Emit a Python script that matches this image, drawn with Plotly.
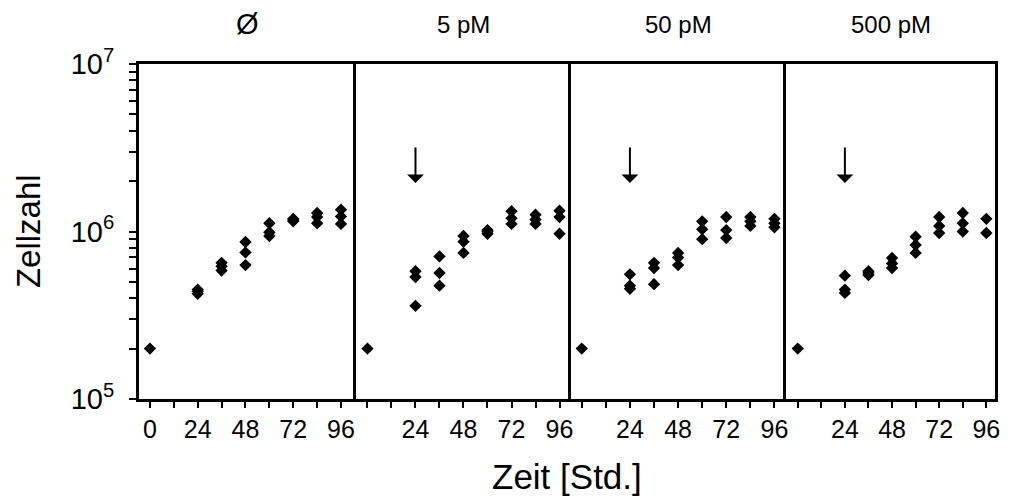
import math

import plotly.graph_objects as go
from plotly.subplots import make_subplots

# Zeitpunkte (Std.) und Zellzahlen je Ansatz
hours = [0, 24, 36, 48, 60, 72, 84, 96]

cells_ctrl = [
    [2.0e5],
    [4.5e5, 4.4e5, 4.25e5],
    [6.5e5, 6.2e5, 5.85e5],
    [8.65e5, 7.5e5, 6.3e5],
    [1.12e6, 9.9e5, 9.4e5],
    [1.19e6, 1.17e6, 1.15e6],
    [1.29e6, 1.22e6, 1.12e6],
    [1.35e6, 1.23e6, 1.11e6],
]

cells_5pm = [
    [2.0e5],
    [5.8e5, 5.35e5, 3.6e5],
    [7.1e5, 5.65e5, 4.75e5],
    [9.4e5, 8.7e5, 7.45e5],
    [1.02e6, 1.0e6, 9.7e5],
    [1.32e6, 1.2e6, 1.11e6],
    [1.26e6, 1.18e6, 1.11e6],
    [1.33e6, 1.22e6, 9.7e5],
]

cells_50pm = [
    [2.0e5],
    [5.55e5, 4.75e5, 4.55e5],
    [6.5e5, 6.05e5, 4.85e5],
    [7.45e5, 7.0e5, 6.3e5],
    [1.15e6, 1.03e6, 9.0e5],
    [1.22e6, 1.02e6, 9.15e5],
    [1.22e6, 1.15e6, 1.08e6],
    [1.19e6, 1.12e6, 1.06e6],
]

cells_500pm = [
    [2.0e5],
    [5.45e5, 4.5e5, 4.3e5],
    [5.8e5, 5.65e5, 5.5e5],
    [6.95e5, 6.45e5, 6.05e5],
    [9.3e5, 8.3e5, 7.45e5],
    [1.22e6, 1.08e6, 9.8e5],
    [1.29e6, 1.12e6, 1.0e6],
    [1.19e6, 9.8e5],
]

panel_titles = ["Ø", "5 pM", "50 pM", "500 pM"]
panels = [cells_ctrl, cells_5pm, cells_50pm, cells_500pm]

# Zugabe des Wirkstoffs (Pfeil)
treatment_hour = 24
arrow_tip = 1.95e6

x_tickvals = [0, 12, 24, 36, 48, 60, 72, 84, 96]

FONT = "Arial, Liberation Sans, sans-serif"

fig = make_subplots(rows=1, cols=4, shared_yaxes=True, horizontal_spacing=0)

for i, panel in enumerate(panels):
    xs = []
    ys = []
    for h, vals in zip(hours, panel):
        for v in vals:
            xs.append(h)
            ys.append(v)
    fig.add_trace(
        go.Scatter(
            x=xs,
            y=ys,
            mode="markers",
            marker=dict(symbol="diamond", size=9.5, color="black"),
            showlegend=False,
        ),
        row=1,
        col=i + 1,
    )

# Achsen
domains = [[0, 0.2534], [0.2534, 0.5041], [0.5041, 0.7564], [0.7564, 1]]
x_ranges = [[-5.5, 103.5], [-5.78, 101.5], [-5.6, 102.0], [-5.73, 100.4]]

for i in range(4):
    labels = [str(v) if v % 24 == 0 else "" for v in x_tickvals]
    if i > 0:
        labels[0] = ""
    fig.update_xaxes(
        domain=domains[i],
        range=x_ranges[i],
        tickvals=x_tickvals,
        ticktext=labels,
        ticks="outside",
        ticklen=6,
        tickwidth=2,
        tickcolor="black",
        showline=True,
        linewidth=3,
        linecolor="black",
        mirror=True,
        showgrid=False,
        zeroline=False,
        tickfont=dict(family=FONT, size=25, color="black"),
        row=1,
        col=i + 1,
    )

y_tickvals = []
y_ticktext = []
for p in range(5, 7):
    for m in range(1, 10):
        y_tickvals.append(m * 10 ** p)
        y_ticktext.append("10<sup>%d</sup>" % p if m == 1 else "")
y_tickvals.append(1e7)
y_ticktext.append("10<sup>7</sup>")

for i in range(4):
    fig.update_yaxes(
        type="log",
        range=[5, 7],
        showline=True,
        linewidth=3,
        linecolor="black",
        mirror=(i == 3),
        showgrid=False,
        zeroline=False,
        row=1,
        col=i + 1,
    )

fig.update_yaxes(
    tickvals=y_tickvals,
    ticktext=y_ticktext,
    ticks="outside",
    ticklen=7,
    tickwidth=2,
    tickcolor="black",
    ticklabelstandoff=9,
    tickfont=dict(family=FONT, size=29, color="black"),
    row=1,
    col=1,
)
for i in range(1, 4):
    fig.update_yaxes(ticks="", showticklabels=False, row=1, col=i + 1)

annotations = []
for i, title in enumerate(panel_titles):
    annotations.append(
        dict(
            text=title,
            x=(domains[i][0] + domains[i][1]) / 2,
            y=1.119,
            xref="paper",
            yref="paper",
            showarrow=False,
            xanchor="center",
            yanchor="middle",
            font=dict(family=FONT, size=29 if title == "Ø" else 24, color="black"),
        )
    )

for i in range(1, 4):
    annotations.append(
        dict(
            x=treatment_hour,
            y=math.log10(arrow_tip),
            xref="x%d" % (i + 1),
            yref="y%d" % (i + 1),
            ax=0,
            ay=-37,
            showarrow=True,
            arrowhead=1,
            arrowsize=1.4,
            arrowwidth=2,
            arrowcolor="black",
            text="",
        )
    )

annotations.append(
    dict(
        text="Zeit [Std.]",
        x=0.5,
        y=-0.23,
        xref="paper",
        yref="paper",
        showarrow=False,
        xanchor="center",
        yanchor="middle",
        font=dict(family=FONT, size=35, color="black"),
    )
)
annotations.append(
    dict(
        text="Zellzahl",
        x=-0.129,
        y=0.5,
        xref="paper",
        yref="paper",
        showarrow=False,
        textangle=-90,
        xanchor="center",
        yanchor="middle",
        font=dict(family=FONT, size=33, color="black"),
    )
)

# die Seite setzt die Grafik um 8 px (Body-Rand) nach rechts und unten
fig.update_layout(
    width=1004,
    height=491,
    margin=dict(l=131, r=14, t=56, b=100),
    plot_bgcolor="white",
    paper_bgcolor="white",
    annotations=annotations,
)

fig.write_html("out.html")
